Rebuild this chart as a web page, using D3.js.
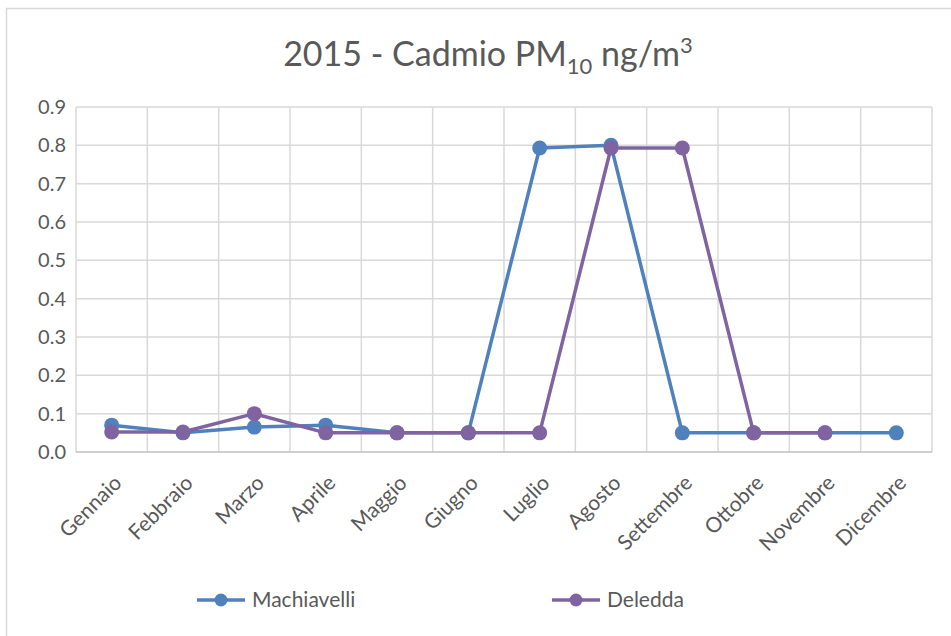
<!DOCTYPE html>
<html><head><meta charset="utf-8">
<script src="https://cdnjs.cloudflare.com/ajax/libs/d3/7.8.5/d3.min.js"></script>
<style>body{margin:0;background:#fff;} svg{display:block;font-family:Lato,"Open Sans",sans-serif;}</style>
</head><body>
<script>
const months = ["Gennaio","Febbraio","Marzo","Aprile","Maggio","Giugno","Luglio","Agosto","Settembre","Ottobre","Novembre","Dicembre"];
const machiavelli = [0.07,0.05,0.065,0.07,0.05,0.05,0.793,0.8,0.05,0.05,0.05,0.05];
const deledda = [0.052,0.052,0.10,0.05,0.05,0.05,0.05,0.793,0.793,0.05,0.05,null];
const yTicks = [0,0.1,0.2,0.3,0.4,0.5,0.6,0.7,0.8,0.9];
const seriesNames = ["Machiavelli","Deledda"];
const colors = ["#4F81BD","#8064A2"];

const W=951,H=636;
const svg=d3.select("body").append("svg").attr("width",W).attr("height",H);
svg.append("rect").attr("x",6.5).attr("y",8.5).attr("width",W).attr("height",H).attr("fill","none").attr("stroke","#d9d9d9").attr("stroke-width",1.5);

const L=76,R=932,T=107,B=452;
const x=d3.scaleBand().domain(months).range([L,R]);
const y=d3.scaleLinear().domain([0,0.9]).range([B,T]);

// grid
svg.append("g").selectAll("line.h").data(yTicks.slice(1)).join("line")
 .attr("x1",L).attr("x2",R).attr("y1",d=>y(d)).attr("y2",d=>y(d)).attr("stroke","#d9d9d9").attr("stroke-width",1.5);
svg.append("g").selectAll("line.v").data(months.map((m,i)=>i).concat([months.length])).join("line")
 .attr("x1",i=>L+i*x.bandwidth()).attr("x2",i=>L+i*x.bandwidth()).attr("y1",T).attr("y2",B).attr("stroke","#d9d9d9").attr("stroke-width",1.5);
svg.append("line").attr("x1",L).attr("x2",R).attr("y1",B).attr("y2",B).attr("stroke","#bfbfbf").attr("stroke-width",1.5);

// y axis labels
svg.append("g").selectAll("text").data(yTicks).join("text")
 .attr("x",66).attr("y",d=>y(d)).attr("dy","0.35em").attr("text-anchor","end")
 .attr("font-size",20).attr("fill","#595959").text(d=>d.toFixed(1));

// x labels
svg.append("g").selectAll("text").data(months).join("text")
 .attr("transform",d=>`translate(${x(d)+x.bandwidth()/2+6},${B+27}) rotate(-45)`)
 .attr("text-anchor","end").attr("dy","0.35em").attr("font-size",21).attr("fill","#595959").text(d=>d);

// series
[machiavelli,deledda].forEach((vals,si)=>{
  const pts=vals.map((v,i)=>({m:months[i],v})).filter(d=>d.v!=null);
  const line=d3.line().x(d=>x(d.m)+x.bandwidth()/2).y(d=>y(d.v));
  svg.append("path").datum(pts).attr("d",line).attr("fill","none").attr("stroke",colors[si]).attr("stroke-width",3.5).attr("stroke-linejoin","round");
  svg.append("g").selectAll("circle").data(pts).join("circle")
   .attr("cx",d=>x(d.m)+x.bandwidth()/2).attr("cy",d=>y(d.v)).attr("r",7.5).attr("fill",colors[si]);
});

// title
const title=svg.append("text").attr("x",488).attr("y",66).attr("text-anchor","middle").attr("font-size",34).attr("fill","#595959");
title.append("tspan").text("2015 - Cadmio PM");
title.append("tspan").attr("font-size",22).attr("dy",8).text("10");
title.append("tspan").attr("dy",-8).text(" ng/m");
title.append("tspan").attr("font-size",22).attr("dy",-13).text("3");

// legend
const legX=[197,552];
seriesNames.forEach((n,i)=>{
  const g=svg.append("g").attr("transform",`translate(${legX[i]},600)`);
  g.append("line").attr("x1",0).attr("x2",48).attr("stroke",colors[i]).attr("stroke-width",3.5);
  g.append("circle").attr("cx",24).attr("r",6.5).attr("fill",colors[i]);
  g.append("text").attr("x",55).attr("dy","0.35em").attr("font-size",21).attr("fill","#595959").text(n);
});
</script>
</body></html>
